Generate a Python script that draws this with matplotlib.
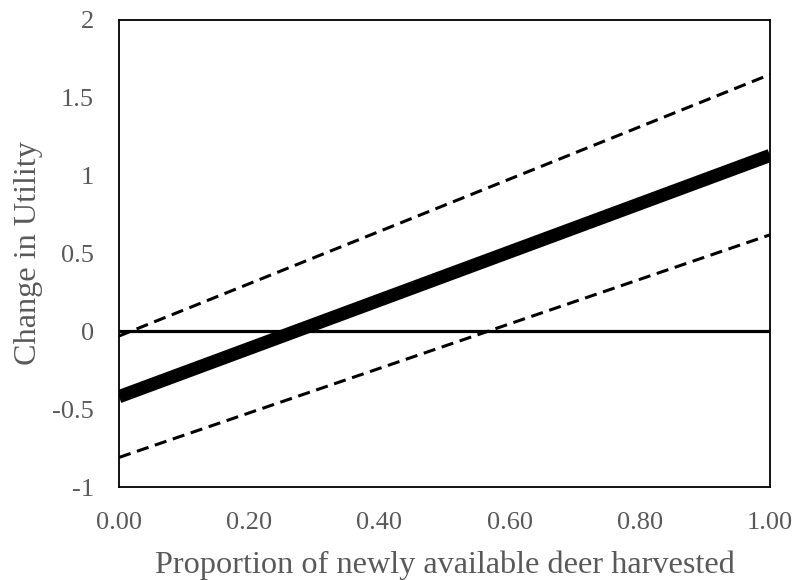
import matplotlib
matplotlib.use("Agg")
import matplotlib.pyplot as plt
import numpy as np

plt.rcParams['font.family'] = ['Liberation Serif', 'DejaVu Serif']

x = [0.0, 1.0]
estimate = [-0.42, 1.13]
upper = [-0.03, 1.65]
lower = [-0.81, 0.62]
zero = [0.0, 0.0]

xticks = [0.0, 0.2, 0.4, 0.6, 0.8, 1.0]
xticklabels = ["0.00", "0.20", "0.40", "0.60", "0.80", "1.00"]
yticks = [-1, -0.5, 0, 0.5, 1, 1.5, 2]
yticklabels = ["-1", "-0.5", "0", "0.5", "1", "1.5", "2"]

fig = plt.figure(figsize=(7.97, 5.80), dpi=100)
ax = fig.add_axes([119/797, 1-487/580, (770-119)/797, (487-20)/580])

gray = '#595959'
ax.plot(x, zero, color='black', lw=2.3, solid_capstyle='butt')
ax.plot(x, upper, color='black', lw=2.2, ls=(0, (4, 2.2)))
ax.plot(x, lower, color='black', lw=2.2, ls=(0, (4, 2.2)))
ax.plot(x, estimate, color='black', lw=9.5, solid_capstyle='butt')

ax.set_xlim(0, 1)
ax.set_ylim(-1, 2)
ax.set_xticks(xticks)
ax.set_xticklabels(xticklabels)
ax.set_yticks(yticks)
ax.set_yticklabels(yticklabels)
ax.tick_params(length=0, labelsize=19, colors=gray)
ax.tick_params(axis='y', pad=18)
ax.tick_params(axis='x', pad=18)
for s in ax.spines.values():
    s.set_color('black')
    s.set_linewidth(1.3)

ax.set_xlabel("Proportion of newly available deer harvested", fontsize=23.2, color=gray)
ax.set_ylabel("Change in Utility", fontsize=23.2, color=gray)
ax.xaxis.set_label_coords(0.5, -0.137)
ax.xaxis.label.set_va('top')
ax.yaxis.set_label_coords(-0.117, 0.5)

fig.savefig("out.png", dpi=100)
